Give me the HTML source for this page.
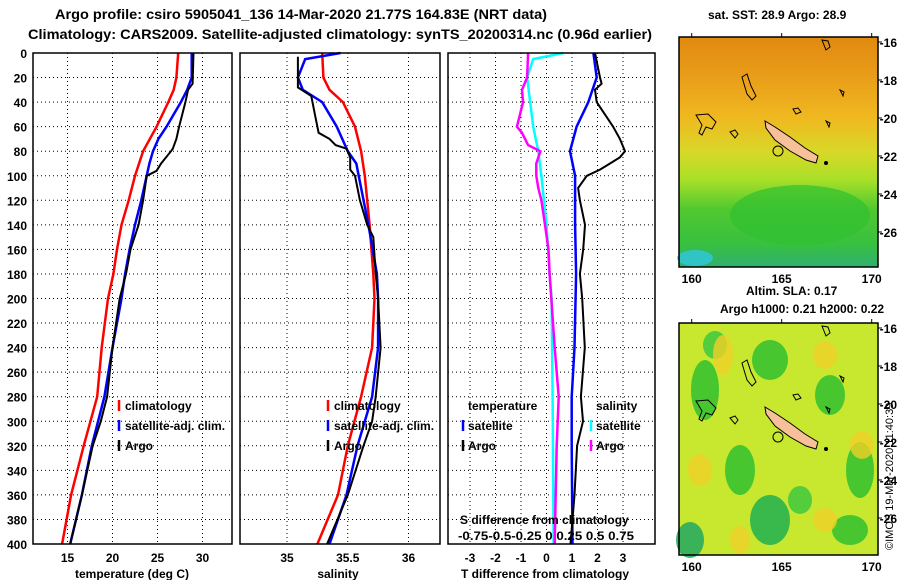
<!DOCTYPE html>
<html><head><meta charset="utf-8"><style>
body{margin:0;background:#fff}
svg{display:block;font-family:"Liberation Sans",Arial,sans-serif;font-weight:bold}
</style></head><body>
<svg id="c" width="900" height="580" viewBox="0 0 900 580"></svg>
<script>
// ===== data (depth in m) =====
const tClimDepth=[0,20,30,40,60,80,100,120,140,160,180,200,240,280,320,360,400];
const tClimVal=[27.3,27.1,26.8,26.2,24.9,23.4,22.5,21.8,21.0,20.5,20.1,19.5,18.8,18.3,16.8,15.4,14.4];
const tSatDepth=[0,20,30,40,50,60,70,80,90,100,120,140,160,180,200,240,280,320,360,400];
const tSatVal=[28.8,28.8,28.3,27.6,26.8,26.0,25.1,24.5,24.1,23.8,23.2,22.5,21.9,21.4,21.0,20.0,19.1,17.7,16.6,15.3];
const tArgoDepth=[0,25,30,40,60,70,78,80,90,96,100,120,140,160,180,200,240,280,300,320,360,400];
const tArgoVal=[29.0,28.9,28.4,28.1,27.4,27.1,26.7,26.5,25.4,24.9,23.8,23.4,22.9,22.0,21.5,20.8,20.0,19.4,18.7,17.8,16.6,15.3];
const sClimDepth=[0,20,30,40,60,80,100,140,180,200,240,280,320,360,400];
const sClimVal=[35.29,35.30,35.35,35.46,35.56,35.61,35.64,35.68,35.71,35.72,35.70,35.61,35.50,35.42,35.25];
const sSatDepth=[0,5,20,30,40,60,80,90,100,140,180,200,240,280,320,360,400];
const sSatVal=[35.44,35.15,35.09,35.13,35.29,35.41,35.50,35.57,35.59,35.67,35.74,35.75,35.75,35.70,35.58,35.49,35.35];
const sArgoDepth=[3,28,30,35,50,60,65,70,75,78,85,95,100,120,140,150,180,200,240,280,300,320,360,400];
const sArgoVal=[35.09,35.09,35.12,35.20,35.23,35.25,35.26,35.35,35.40,35.49,35.52,35.52,35.56,35.60,35.66,35.71,35.73,35.75,35.77,35.73,35.70,35.63,35.50,35.33];
const dTSatDepth=[0,20,40,60,80,100,140,180,240,280,320,400];
const dTSatVal=[1.84,1.97,1.64,1.18,0.92,1.12,1.12,1.16,1.10,0.99,0.99,1.02];
const dTArgoDepth=[0,20,25,30,40,60,70,80,85,90,95,100,110,120,140,160,180,200,240,280,300,320,360,400];
const dTArgoVal=[1.90,2.10,2.16,1.90,1.97,2.61,2.88,3.08,2.88,2.49,2.10,1.58,1.24,1.31,1.51,1.44,1.31,1.40,1.50,1.35,1.43,1.20,1.10,0.94];
const dSSatDepth=[0,5,20,40,60,80,100,140,180,200,280,400];
const dSSatVal=[0.165,-0.13,-0.19,-0.16,-0.13,-0.08,-0.05,0.0,0.03,0.05,0.06,0.07];
const dSArgoDepth=[0,20,30,40,50,60,65,75,80,90,100,110,120,140,160,180,240,280,320,400];
const dSArgoVal=[-0.18,-0.19,-0.24,-0.23,-0.26,-0.29,-0.24,-0.18,-0.06,-0.10,-0.10,-0.08,-0.05,-0.015,0.02,0.03,0.08,0.12,0.10,0.08];
const depthTicks=[0,20,40,60,80,100,120,140,160,180,200,220,240,260,280,300,320,340,360,380,400];
const tTicks=[15,20,25,30];
const sTicks=[35,35.5,36];
const dTTicks=[-3,-2,-1,0,1,2,3];
const latTicks=[-16,-18,-20,-22,-24,-26];
const lonTicks=[160,165,170];

const NS="http://www.w3.org/2000/svg";
const svg=document.getElementById('c');
function el(tag,attrs,parent,text){const e=document.createElementNS(NS,tag);for(const k in attrs)e.setAttribute(k,attrs[k]);if(text!==undefined)e.textContent=text;(parent||svg).appendChild(e);return e;}
const Y0=53,Y1=544;
const yD=d=>Y0+d*(Y1-Y0)/400;
const xT=t=>67.5+(t-15)*9;
const xS=s=>287+(s-35)*121.5;
const xDT=v=>546.5+v*25.5;
const xDS=v=>546.5+v*102;

function panel(name){
  const g=el('g',{});
  
  
  return g;
}
function grid(g,x0,x1,xs){
  depthTicks.forEach(d=>{if(d>0&&d<400)el('line',{x1:x0,x2:x1,y1:yD(d),y2:yD(d),stroke:'#000','stroke-dasharray':'1,3'},g);});
  xs.forEach(x=>el('line',{x1:x,x2:x,y1:Y0,y2:Y1,stroke:'#000','stroke-dasharray':'1,3'},g));
}
function line(g,name,ds,vs,fx,color,w){
  const p=ds.map((d,i)=>fx(vs[i]).toFixed(1)+','+yD(d).toFixed(1)).join(' ');
  const e=el('polyline',{points:p,fill:'none',stroke:color,'stroke-width':w},g);
  
  
}
function frame(g,x0,x1){el('rect',{x:x0,y:Y0,width:x1-x0,height:Y1-Y0,fill:'none',stroke:'#000','stroke-width':1.5},g);}
function txt(g,x,y,s,name,extra){const a=Object.assign({x:x,y:y,'font-size':12},extra||{});const e=el('text',a,g,s);return e;}
function legMark(g,x,y,c){el('line',{x1:x,x2:x,y1:y-10,y2:y+1,stroke:c,'stroke-width':2.5},g);}

txt(svg,55,19,"Argo profile: csiro 5905041_136 14-Mar-2020 21.77S 164.83E (NRT data)","title-line-1",{'font-size':14,textLength:492,lengthAdjust:'spacingAndGlyphs'});
txt(svg,28,39,"Climatology: CARS2009. Satellite-adjusted climatology: synTS_20200314.nc (0.96d earlier)","title-line-2",{'font-size':14,textLength:624,lengthAdjust:'spacingAndGlyphs'});

const yl=el('g',{});
depthTicks.forEach(d=>txt(yl,27,yD(d)+5,String(d),'depth-tick',{'text-anchor':'end'}));

let g=panel('temperature-panel');
grid(g,33,232,tTicks.map(xT));
line(g,'temp-climatology-line',tClimDepth,tClimVal,xT,'#f00',2.5);
line(g,'temp-satellite-line',tSatDepth,tSatVal,xT,'#00f',2.5);
line(g,'temp-argo-line',tArgoDepth,tArgoVal,xT,'#000',2);
frame(g,33,232);
tTicks.forEach(t=>txt(g,xT(t),562,String(t),'temp-tick',{'text-anchor':'middle'}));
txt(g,132,578,"temperature (deg C)","temp-axis-title",{'text-anchor':'middle'});
legMark(g,119,410,'#f00');txt(g,125,410,"climatology","legend-climatology");
legMark(g,119,430,'#00f');txt(g,125,430,"satellite-adj. clim.","legend-satellite");
legMark(g,119,450,'#000');txt(g,125,450,"Argo","legend-argo");

g=panel('salinity-panel');
grid(g,240,440,sTicks.map(xS));
line(g,'sal-climatology-line',sClimDepth,sClimVal,xS,'#f00',2.5);
line(g,'sal-satellite-line',sSatDepth,sSatVal,xS,'#00f',2.5);
line(g,'sal-argo-line',sArgoDepth,sArgoVal,xS,'#000',2);
frame(g,240,440);
sTicks.forEach(s=>txt(g,xS(s),562,String(s),'sal-tick',{'text-anchor':'middle'}));
txt(g,338,578,"salinity","sal-axis-title",{'text-anchor':'middle'});
legMark(g,328,410,'#f00');txt(g,334,410,"climatology","legend-climatology");
legMark(g,328,430,'#00f');txt(g,334,430,"satellite-adj. clim.","legend-satellite");
legMark(g,328,450,'#000');txt(g,334,450,"Argo","legend-argo");

g=panel('difference-panel');
grid(g,448,655,dTTicks.map(xDT));
line(g,'dsal-satellite-line',dSSatDepth,dSSatVal,xDS,'#0ff',2.5);
line(g,'dsal-argo-line',dSArgoDepth,dSArgoVal,xDS,'#f0f',2.5);
line(g,'dtemp-satellite-line',dTSatDepth,dTSatVal,xDT,'#00f',2.5);
line(g,'dtemp-argo-line',dTArgoDepth,dTArgoVal,xDT,'#000',2);
frame(g,448,655);
dTTicks.forEach(v=>txt(g,xDT(v),562,String(v),'dtemp-tick',{'text-anchor':'middle'}));
txt(g,545,578,"T difference from climatology","dtemp-axis-title",{'text-anchor':'middle'});
txt(g,468,410,"temperature","legend-temperature-heading");
txt(g,596,410,"salinity","legend-salinity-heading");
legMark(g,463,430,'#00f');txt(g,468,430,"satellite","legend-t-satellite");
legMark(g,463,450,'#000');txt(g,468,450,"Argo","legend-t-argo");
legMark(g,591,430,'#0ff');txt(g,596,430,"satellite","legend-s-satellite");
legMark(g,591,450,'#f0f');txt(g,596,450,"Argo","legend-s-argo");
txt(g,460,524,"S difference from climatology","dsal-axis-title");
txt(g,458,540,"-0.75-0.5-0.25  0  0.25 0.5 0.75","dsal-ticks",{textLength:176,lengthAdjust:'spacingAndGlyphs'});

const defs=el('defs',{});
const g1=el('linearGradient',{id:'sst',x1:0,y1:0,x2:0,y2:1},defs);
[[0,'#e08a10'],[0.15,'#e89a18'],[0.35,'#f0b820'],[0.5,'#d8d828'],[0.62,'#a8e028'],[0.75,'#50c830'],[0.9,'#38c040'],[1,'#30b070']].forEach(s=>el('stop',{offset:s[0],'stop-color':s[1]},g1));
function map(name,y0,y1,sst){
  const mg=el('g',{});
  
  
  const x0=679,x1=878;
  if(sst){
    el('rect',{x:x0,y:y0,width:x1-x0,height:y1-y0,fill:'url(#sst)'},mg);
    el('ellipse',{cx:800,cy:215,rx:70,ry:30,fill:'#30c030',opacity:0.7},mg);
    el('ellipse',{cx:695,cy:258,rx:18,ry:8,fill:'#30c8e0',opacity:0.8},mg);
  } else {
    el('rect',{x:x0,y:y0,width:x1-x0,height:y1-y0,fill:'#c8e830'},mg);
    [[705,390,14,30,'#30c030'],[770,360,18,20,'#30c030'],[740,470,15,25,'#30c030'],[770,520,20,25,'#20b050'],[830,395,15,20,'#30c030'],[860,470,14,28,'#30c030'],[690,540,14,18,'#20a860'],[800,500,12,14,'#40c840'],[850,530,18,15,'#30c030'],[715,345,12,14,'#40c840']].forEach(c=>el('ellipse',{cx:c[0],cy:c[1],rx:c[2],ry:c[3],fill:c[4],opacity:0.85},mg));
    [[723,355,10,20],[825,355,12,14],[700,470,12,16],[740,540,10,14],[862,445,12,14],[825,520,12,12]].forEach(c=>el('ellipse',{cx:c[0],cy:c[1],rx:c[2],ry:c[3],fill:'#f0d028',opacity:0.8},mg));
  }
  const dy=y0-37;
  el('polygon',{points:`765,${121+dy} 775,${127+dy} 790,${137+dy} 805,${148+dy} 818,${156+dy} 816,${163+dy} 806,${160+dy} 790,${151+dy} 775,${140+dy} 766,${128+dy}`,fill:'#f8c098',stroke:'#000','stroke-width':1},mg);
  el('circle',{cx:778,cy:151+dy,r:5,fill:'none',stroke:'#000','stroke-width':1},mg);
  el('path',{d:`M742 ${77+dy} l5 -3 l4 12 l5 10 l-4 4 l-5 -6 l-3 -10z M696 ${115+dy} l12 -1 l8 8 l-4 7 l-6 -2 l-4 8 l-3 -2 l3 -8z M730 ${132+dy} l5 -2 l3 4 l-3 4z M793 ${109+dy} l5 -1 l3 4 l-5 2z M822 ${40+dy} l6 1 l2 6 l-4 3z M840 ${90+dy} l4 2 l-1 4z M826 ${121+dy} l4 2 l-1 4z`,fill:'none',stroke:'#000','stroke-width':1},mg);
  el('circle',{cx:826,cy:163+dy,r:2,fill:'#000'},mg);
  el('rect',{x:x0,y:y0,width:x1-x0,height:y1-y0,fill:'none',stroke:'#000','stroke-width':1.5},mg);
  latTicks.forEach(l=>{const y=y0+5+(-16-l)*19;el('line',{x1:x1,x2:x1+4,y1:y,y2:y,stroke:'#000'},mg);txt(mg,897,y+5,String(l),'lat-tick',{'text-anchor':'end'});});
  lonTicks.forEach(l=>{const x=691.7+(l-160)*18;el('line',{x1:x,x2:x,y1:y0,y2:y0-4,stroke:'#000'},mg);txt(mg,x,y1+16,String(l),'lon-tick',{'text-anchor':'middle'});});
  return mg;
}
map('sst-map',37,267,true);
map('sla-map',323,555,false);
txt(svg,708,19,"sat. SST: 28.9 Argo: 28.9","sst-map-title");
txt(svg,746,295,"Altim. SLA: 0.17","sla-map-title");
txt(svg,720,313,"Argo h1000: 0.21 h2000: 0.22","argo-height-label");
txt(svg,893,550,"©IMOS 19-Mar-2020 11:40:39","imos-timestamp",{transform:'rotate(-90 893 550)','font-weight':'normal','font-size':11});
</script>
</body></html>
